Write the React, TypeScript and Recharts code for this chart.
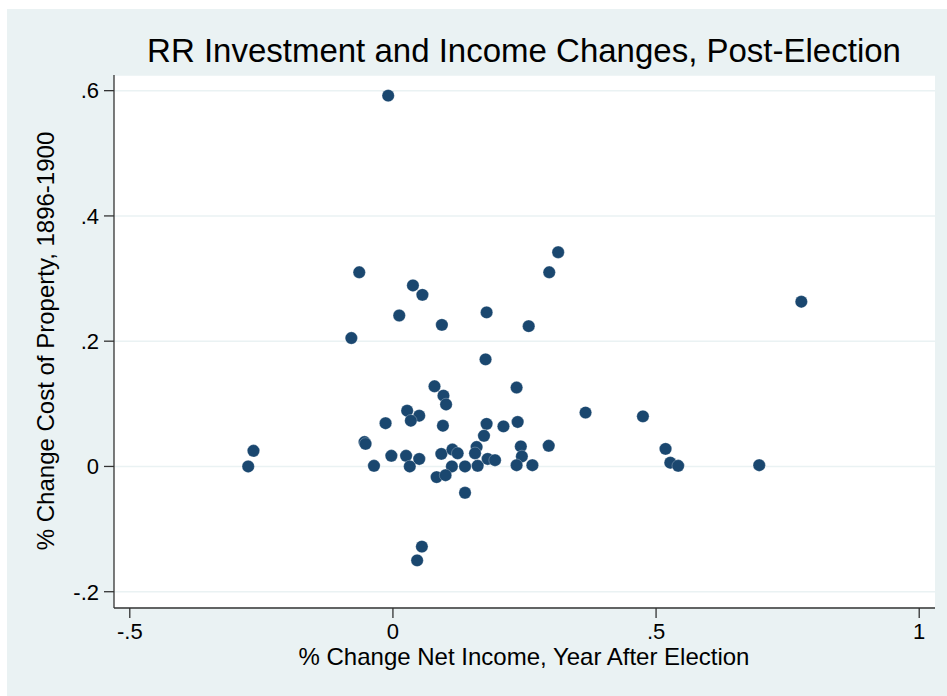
import { CartesianGrid, Scatter, ScatterChart, XAxis, YAxis } from 'recharts'

// % change in net income, year after election (x) and % change in cost of property 1896-1900 (y)
const netIncome = [
  -0.009, -0.265, -0.275, -0.064, -0.079, 0.012, 0.038, 0.056, 0.093, 0.178,
  0.176, 0.258, 0.297, 0.314, 0.776, 0.366, 0.475, 0.518, 0.527, 0.542,
  0.696, 0.079, 0.096, 0.101, 0.235, 0.027, 0.050, 0.034, -0.014, 0.095,
  0.178, 0.210, 0.237, 0.173, -0.054, -0.052, 0.296, 0.243, -0.003, 0.025,
  0.092, 0.113, 0.123, 0.159, 0.156, 0.050, 0.245, 0.180, 0.194, -0.036,
  0.032, 0.112, 0.137, 0.161, 0.235, 0.265, 0.083, 0.100, 0.137, 0.055,
  0.046,
]
const propertyCost = [
  0.592, 0.025, 0.0, 0.310, 0.205, 0.241, 0.289, 0.274, 0.226, 0.246,
  0.171, 0.224, 0.310, 0.342, 0.263, 0.086, 0.080, 0.028, 0.006, 0.001,
  0.002, 0.128, 0.113, 0.099, 0.126, 0.089, 0.081, 0.073, 0.069, 0.065,
  0.068, 0.064, 0.071, 0.049, 0.039, 0.036, 0.033, 0.032, 0.017, 0.017,
  0.020, 0.027, 0.021, 0.031, 0.021, 0.012, 0.016, 0.012, 0.010, 0.001,
  0.0, 0.0, 0.0, 0.001, 0.002, 0.002, -0.017, -0.014, -0.042, -0.128,
  -0.150,
]

const xTicks = [-0.5, 0, 0.5, 1]
const yTicks = [-0.2, 0, 0.2, 0.4, 0.6]

const points = netIncome.map((x, i) => ({ x, y: propertyCost[i] }))

const FONT = '"Liberation Sans", Arial, Helvetica, sans-serif'
const NAVY = '#1a476f'
const PANEL = '#eaf2f3'
const AXIS = '#333333'

// Stata-style tick labels: ".5", "-.2", "0"
const stataNum = (v: number) => (v === 0 ? '0' : String(v).replace('0.', '.'))

const Dot = (props: any) => (
  <circle
    cx={props.cx}
    cy={props.cy}
    r={6.2}
    fill={NAVY}
    stroke="#ffffff"
    strokeOpacity={0.45}
    strokeWidth={0.6}
  />
)

export default function App() {
  return (
    <div
      style={{
        position: 'absolute',
        left: 0,
        top: 0,
        width: 947,
        height: 696,
        background: '#ffffff',
        overflow: 'hidden',
        fontFamily: FONT,
      }}
    >
      <div style={{ position: 'absolute', left: 7, top: 9, right: 0, bottom: 0, background: PANEL }} />
      <div style={{ position: 'absolute', left: 0, top: 0 }}>
        <ScatterChart width={947} height={696} margin={{ top: 75, right: 12, bottom: 0, left: 0 }}>
          <CartesianGrid vertical={false} stroke={PANEL} strokeWidth={1.5} fill="#ffffff" />
          <XAxis
            dataKey="x"
            type="number"
            domain={[-0.53, 1.03]}
            ticks={xTicks}
            interval={0}
            allowDataOverflow
            height={88}
            tickSize={10}
            tickMargin={5}
            tickFormatter={stataNum}
            axisLine={{ stroke: AXIS, strokeWidth: 1.3 }}
            tickLine={{ stroke: AXIS, strokeWidth: 1.3 }}
            tick={{ fill: '#000', fontSize: 22, fontFamily: FONT }}
          />
          <YAxis
            dataKey="y"
            type="number"
            domain={[-0.226, 0.625]}
            ticks={yTicks}
            interval={0}
            allowDataOverflow
            width={114}
            tickSize={10}
            tickMargin={5}
            tickFormatter={stataNum}
            axisLine={{ stroke: AXIS, strokeWidth: 1.3 }}
            tickLine={{ stroke: AXIS, strokeWidth: 1.3 }}
            tick={{ fill: '#000', fontSize: 22, fontFamily: FONT }}
          />
          <Scatter data={points} shape={Dot} isAnimationActive={false} />
        </ScatterChart>
      </div>
      <svg
        width={947}
        height={696}
        style={{ position: 'absolute', left: 0, top: 0, pointerEvents: 'none' }}
      >
        <text x={524} y={62} textAnchor="middle" fontSize={33} fontFamily={FONT} fill="#000">
          RR Investment and Income Changes, Post-Election
        </text>
        <text x={524} y={665} textAnchor="middle" fontSize={24} fontFamily={FONT} fill="#000">
          % Change Net Income, Year After Election
        </text>
        <text
          x={0}
          y={0}
          transform="translate(53.5 341) rotate(-90)"
          textAnchor="middle"
          fontSize={24}
          fontFamily={FONT}
          fill="#000"
        >
          % Change Cost of Property, 1896-1900
        </text>
      </svg>
    </div>
  )
}
